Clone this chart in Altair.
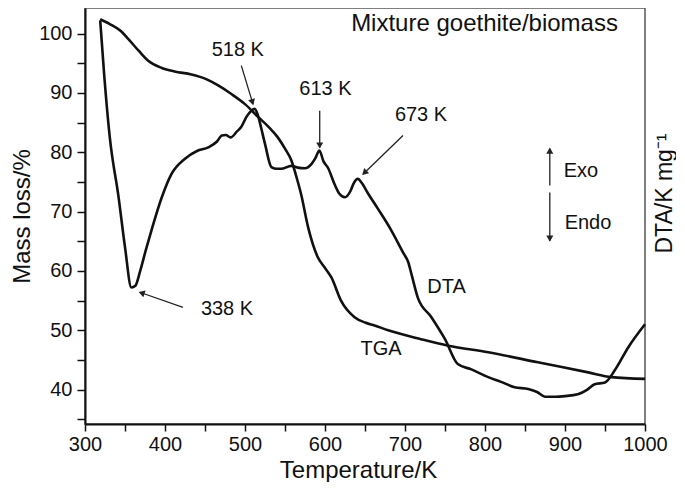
import math
import altair as alt
import pandas as pd

# ---------------- data ----------------
dta_temp = [319, 324, 331, 342, 350, 358, 363, 369, 376, 383, 396, 408, 425, 440, 454,
            465, 471, 476, 482, 490, 495, 502, 508, 512, 516, 520, 525, 533, 540, 545,
            558, 566, 575, 583, 588, 593, 598, 604, 612, 618, 625, 632, 636, 641, 646,
            654, 666, 683, 698, 704, 708, 716, 733, 750, 766, 783, 804, 820, 837, 854,
            865, 875, 888, 900, 916, 928, 937, 950, 962, 979, 1000]
dta_val = [102.2, 93, 82.5, 72.4, 64, 57.2, 57.5, 60, 63.5, 66.8, 72.4, 76.3, 78.9, 80.2, 80.8,
           81.8, 82.8, 82.9, 82.5, 83.5, 84.2, 86, 87.0, 87.3, 86.3, 84.2, 81.4, 77.5, 77.2, 77.2,
           77.7, 77.4, 77.3, 78, 79, 80.3, 78.5, 77.3, 74.6, 73, 72.4, 73.5, 74.8, 75.5, 74.8,
           73, 70.5, 66.8, 63, 61.5, 59.5, 55.5, 52.2, 48.5, 44.3, 43.4, 42.1, 41.3, 40.4, 40.1,
           39.6, 38.8, 38.8, 38.9, 39.2, 40.0, 40.9, 41.2, 43.2, 47.1, 51.0]

tga_temp = [319, 331, 344, 354, 367, 379, 396, 412, 433, 450, 467, 483, 500, 516, 530,
            541, 550, 558, 565, 570, 579, 591, 600, 608, 620, 637, 650, 662, 679, 720,
            754, 804, 866, 929, 958, 1000]
tga_val = [102.4, 101.6, 100.5, 99.1, 97.1, 95.4, 94.2, 93.6, 93.1, 92.4, 91.2, 89.8, 88.1, 86.0, 84.2,
           82.5, 80.6, 78.6, 75.5, 73, 67.3, 62.3, 60.5, 58.9, 55, 52.2, 51.3, 50.8, 50.0, 48.5,
           47.4, 46.3, 44.6, 42.9, 42.1, 41.8]

# annotation arrows (start -> tip), in data units
arrow_x1 = [495.4, 593.4, 697.5, 422.5, 881, 881]
arrow_y1 = [94.6, 87.0, 82.8, 53.85, 74.4, 73.2]
arrow_x2 = [510, 593.4, 647.5, 368.4, 881, 881]
arrow_y2 = [88.1, 80.8, 76.3, 56.4, 80.6, 65.1]

# annotation texts, centred
text_labels = ["518 K", "613 K", "673 K", "338 K", "Exo", "Endo", "DTA", "TGA"]
text_x = [491, 600.6, 720, 477.5, 920, 928.75, 751.9, 670]
text_y = [97.3, 90.6, 86.3, 53.5, 76.9, 68.0, 57.3, 46.9]

title_text = ["Mixture goethite/biomass"]
title_x = [799.4]
title_y = [101.6]

x_ticks = list(range(300, 1001, 50))
y_ticks = list(range(35, 101, 5))

# ---------------- layout ----------------
W, H = 560, 416
XDOM = [300, 1000]
YDOM = [34.2, 104.3]
sx = W / (XDOM[1] - XDOM[0])
sy = H / (YDOM[1] - YDOM[0])

FONT = "Liberation Sans"
INK = "#111111"

xscale = alt.Scale(domain=XDOM, nice=False, zero=False)
yscale = alt.Scale(domain=YDOM, nice=False, zero=False)

x_axis = alt.Axis(values=x_ticks, format="d",
                  labelExpr="datum.value % 100 == 0 ? datum.label : ''",
                  labelFlush=False, tickSize=7, labelPadding=3, titlePadding=4,
                  titleX=273)
y_axis = alt.Axis(values=y_ticks, labelExpr="datum.value % 10 == 0 ? datum.label : ''",
                  tickSize=8, labelPadding=5, titlePadding=4)

X = lambda f: alt.X(f, scale=xscale, axis=x_axis, title="Temperature/K")
Y = lambda f: alt.Y(f, scale=yscale, axis=y_axis, title="Mass loss/%")

tga_df = pd.DataFrame({"t": tga_temp, "v": tga_val})
dta_df = pd.DataFrame({"t": dta_temp, "v": dta_val})

# arrow heads
angles, hx, hy = [], [], []
for x1, y1, x2, y2 in zip(arrow_x1, arrow_y1, arrow_x2, arrow_y2):
    th = math.atan2((x2 - x1) * sx, (y2 - y1) * sy)
    angles.append(math.degrees(th) % 360)
    back = 3.0
    hx.append(x2 - back * math.sin(th) / sx)
    hy.append(y2 - back * math.cos(th) / sy)

arrow_df = pd.DataFrame({"t": arrow_x1, "v": arrow_y1, "t2": arrow_x2, "v2": arrow_y2})
head_df = pd.DataFrame({"t": hx, "v": hy, "ang": angles})
text_df = pd.DataFrame({"t": text_x, "v": text_y, "label": text_labels})
title_df = pd.DataFrame({"t": title_x, "v": title_y, "label": title_text})

tga = alt.Chart(tga_df).mark_line(color=INK, strokeWidth=2.6, interpolate="monotone").encode(
    x=X("t:Q"), y=Y("v:Q"))

rules = alt.Chart(arrow_df).mark_rule(color="#222222", strokeWidth=1.3).encode(
    x=X("t:Q"), y=Y("v:Q"), x2="t2:Q", y2="v2:Q")

heads = alt.Chart(head_df).mark_point(shape="triangle", filled=True, size=50,
                                      color="#222222", opacity=1).encode(
    x=X("t:Q"), y=Y("v:Q"), angle=alt.Angle("ang:Q", scale=None))

texts = alt.Chart(text_df).mark_text(font=FONT, fontSize=20, color=INK,
                                     align="center", baseline="middle").encode(
    x=X("t:Q"), y=Y("v:Q"), text="label:N")

title = alt.Chart(title_df).mark_text(font=FONT, fontSize=24, color=INK,
                                      align="center", baseline="middle").encode(
    x=X("t:Q"), y=Y("v:Q"), text="label:N")

main = alt.layer(tga, rules, heads, texts, title)

dta = alt.Chart(dta_df).mark_line(color=INK, strokeWidth=2.6, interpolate="monotone").encode(
    x=X("t:Q"),
    y=alt.Y("v:Q", scale=yscale,
            axis=alt.Axis(orient="right", labels=False, ticks=False, domain=False,
                          grid=False, titleAngle=270, titleX=19, titleY=185,
                          titleFontSize=23,
                          titleAlign="center", titleBaseline="middle"),
            title="DTA/K mg\u207b\u00b9"))

chart = alt.layer(main, dta).resolve_scale(y="independent").properties(
    width=W, height=H,
    padding={"left": 2, "top": 0, "right": 0, "bottom": 0},
).configure(font=FONT).configure_view(
    stroke="#555555", strokeWidth=1.5
).configure_axis(
    grid=False, domainColor=INK, domainWidth=2, tickColor=INK, tickWidth=1.5,
    labelFont=FONT, labelFontSize=20, labelColor=INK,
    titleFont=FONT, titleFontSize=24, titleFontWeight="normal", titleColor=INK,
)

chart.save("out.html", embed_options={"renderer": "svg", "actions": False})
